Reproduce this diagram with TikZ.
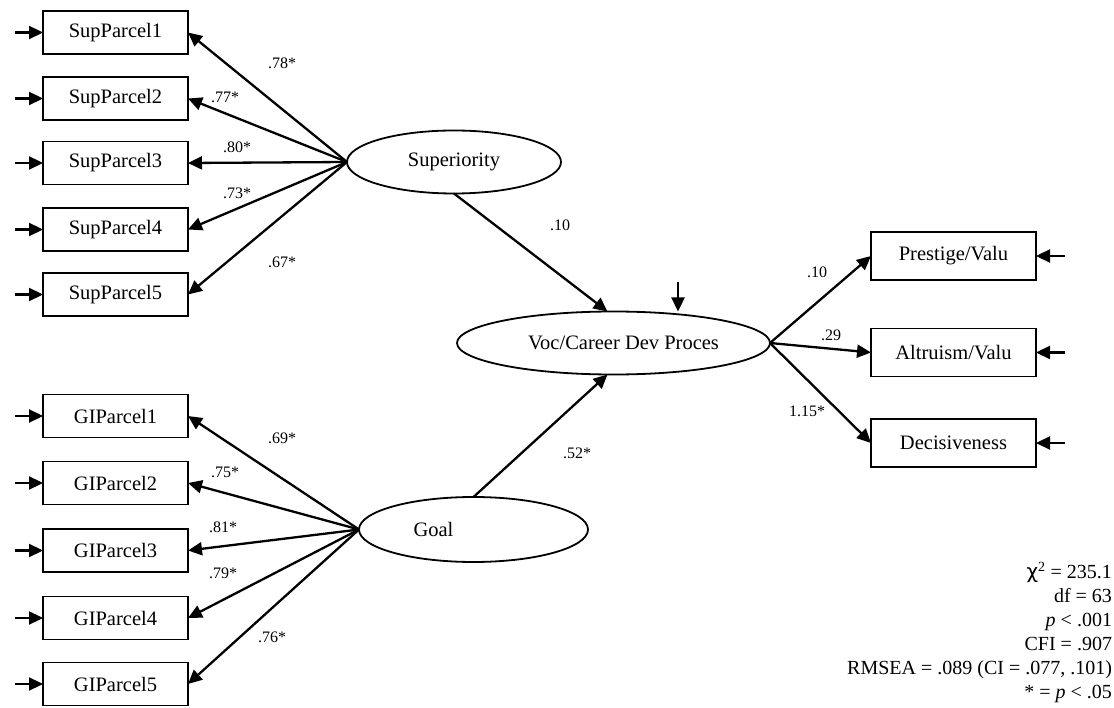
\documentclass[tikz,border=0pt]{standalone}
\usepackage{fontspec}
\setmainfont{Liberation Serif}
\newfontfamily\chifont{DejaVu Sans}
\usetikzlibrary{arrows.meta,shapes.geometric}
\begin{document}
\begin{tikzpicture}[x=1pt,y=-1pt,
  every node/.style={inner sep=0pt, outer sep=0pt},
  obs/.style={draw, line width=1.8pt, minimum width=145pt, minimum height=43pt,
    font=\fontsize{20.5}{24}\selectfont},
  obsr/.style={obs, minimum width=165pt, minimum height=48pt},
  lat/.style={draw, ellipse, line width=1.8pt, minimum height=63pt},
  lattext/.style={font=\fontsize{20.5}{24}\selectfont},
  path/.style={line width=2.3pt, -{Triangle[length=14pt,width=13pt]}},
  coef/.style={font=\fontsize{16}{19}\selectfont},
  stats/.style={font=\fontsize{20}{24}\selectfont, align=right}
]
\useasboundingbox (0,0) rectangle (1114,708);

% indicators of Superiority
\node[obs] (s1) at (115.5,32.5)  {SupParcel1};
\node[obs] (s2) at (115.5,98.5)  {SupParcel2};
\node[obs] (s3) at (115.5,163)   {SupParcel3};
\node[obs] (s4) at (115.5,229.5) {SupParcel4};
\node[obs] (s5) at (115.5,294.5) {SupParcel5};

% indicators of Goal
\node[obs] (g1) at (115.5,416)   {GIParcel1};
\node[obs] (g2) at (115.5,483)   {GIParcel2};
\node[obs] (g3) at (115.5,550.5) {GIParcel3};
\node[obs] (g4) at (115.5,618)   {GIParcel4};
\node[obs] (g5) at (115.5,684)   {GIParcel5};

% latent variables
\node[lat, minimum width=214pt, label={[lattext]center:Superiority}] (sup) at (454,162) {};
\node[lat, minimum width=313pt, label={[lattext, xshift=10pt]center:Voc/Career Dev Proces}] (voc) at (613.5,343) {};
\node[lat, minimum width=229pt, minimum height=65pt, label={[lattext, xshift=-40pt]center:Goal}] (goal) at (473.5,529.5) {};

% outcome indicators
\node[obsr] (pv) at (953.5,256) {Prestige/Valu};
\node[obsr] (av) at (953.5,352.5) {Altruism/Valu};
\node[obsr] (dc) at (953.5,443) {Decisiveness};

% error terms on the left indicators
\foreach \n in {s1,s2,s3,s4,s5,g1,g2,g3,g4,g5} {
  \coordinate (e\n) at ([xshift=-28pt]\n.west);
  \draw[path] (e\n) -- (\n.west);
}
% error terms on the right indicators
\foreach \n in {pv,av,dc} {
  \coordinate (e\n) at ([xshift=29pt]\n.east);
  \draw[path] (e\n) -- (\n.east);
}
% disturbance of the outcome factor
\coordinate (dvoc) at (678,282);
\draw[path] (dvoc) -- (dvoc |- voc.north);

% loadings
\foreach \n in {s1,s2,s3,s4,s5} \draw[path] (sup.west) -- (\n.east);
\foreach \n in {g1,g2,g3,g4,g5} \draw[path] (goal.west) -- (\n.east);
\foreach \n in {pv,av,dc} \draw[path] (voc.east) -- (\n.west);

% structural paths
\draw[path] (sup.south) -- ([xshift=-6pt]voc.north);
\draw[path] (goal.north) -- ([xshift=-6pt]voc.south);

% coefficients
\node[coef] (c1)  at (282,63)  {.78*};
\node[coef] (c2)  at (225,97)  {.77*};
\node[coef] (c3)  at (237,147) {.80*};
\node[coef] (c4)  at (237,193) {.73*};
\node[coef] (c5)  at (282,262) {.67*};
\node[coef] (c6)  at (282,438) {.69*};
\node[coef] (c7)  at (225,472) {.75*};
\node[coef] (c8)  at (223,527) {.81*};
\node[coef] (c9)  at (223,573) {.79*};
\node[coef] (c10) at (272,637) {.76*};
\node[coef] (c11) at (560,225) {.10};
\node[coef] (c12) at (577,453) {.52*};
\node[coef] (c13) at (817,272) {.10};
\node[coef] (c14) at (831,335) {.29};
\node[coef] (c15) at (807,411) {1.15*};

% fit statistics
\node[stats, anchor=south east] (fit) at (1112,703) {%
  {\chifont χ}\textsuperscript{2} = 235.1\\
  df = 63\\
  \textit{p} < .001\\
  CFI = .907\\
  RMSEA = .089 (CI = .077, .101)\\
  * = \textit{p} < .05};
\end{tikzpicture}
\end{document}
